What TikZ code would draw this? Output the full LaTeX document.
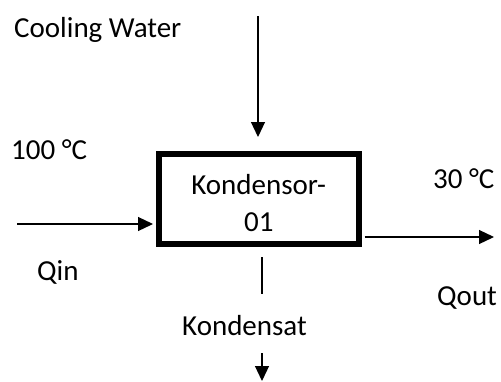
\documentclass[tikz,border=0pt]{standalone}
\usepackage{fontspec}
\setmainfont{Carlito}
\usetikzlibrary{arrows.meta}
\begin{document}
\begin{tikzpicture}[x=1pt,y=-1pt,
  lbl/.style={anchor=base west,inner sep=0pt,font=\fontsize{29}{37}\selectfont},
  arr/.style={line width=1.2pt,-{Triangle[length=15pt,width=14pt]}},
  plain/.style={line width=1.2pt},
  unit/.style={draw,line width=6pt,minimum width=199.5pt,minimum height=90pt,inner sep=0pt}]
\useasboundingbox (0,0) rectangle (501,381);
\node[unit] (box) at (258.75,199) {};
\node[inner sep=0pt,align=center,font=\fontsize{29}{37}\selectfont] (boxtext) at (258.75,203.5) {Kondensor-\\01};
\node[lbl] (cw) at (14,37) {Cooling Water};
\node[lbl] (tin) at (11,159) {100 °C};
\node[lbl] (tout) at (433,188) {30 °C};
\node[lbl] (qin) at (37,280) {Qin};
\node[lbl] (qout) at (437,305) {Qout};
\node[lbl] (kond) at (182,335) {Kondensat};
\coordinate (cwtop) at (258,16);
\coordinate (inL) at (17,224);
\coordinate (outR) at (494,237);
\coordinate (kA) at (262,257);
\coordinate (kB) at (262,294);
\coordinate (kC) at (262,353);
\coordinate (kD) at (262,381);
\draw[arr,shorten >=14pt] (cwtop) -- (cwtop |- box.north);
\draw[arr,shorten >=3pt] (inL) -- (inL -| box.west);
\draw[arr,shorten <=3pt] (box.east |- outR) -- (outR);
\draw[plain] (kA) -- (kB);
\draw[arr] (kC) -- (kD);
\end{tikzpicture}
\end{document}
